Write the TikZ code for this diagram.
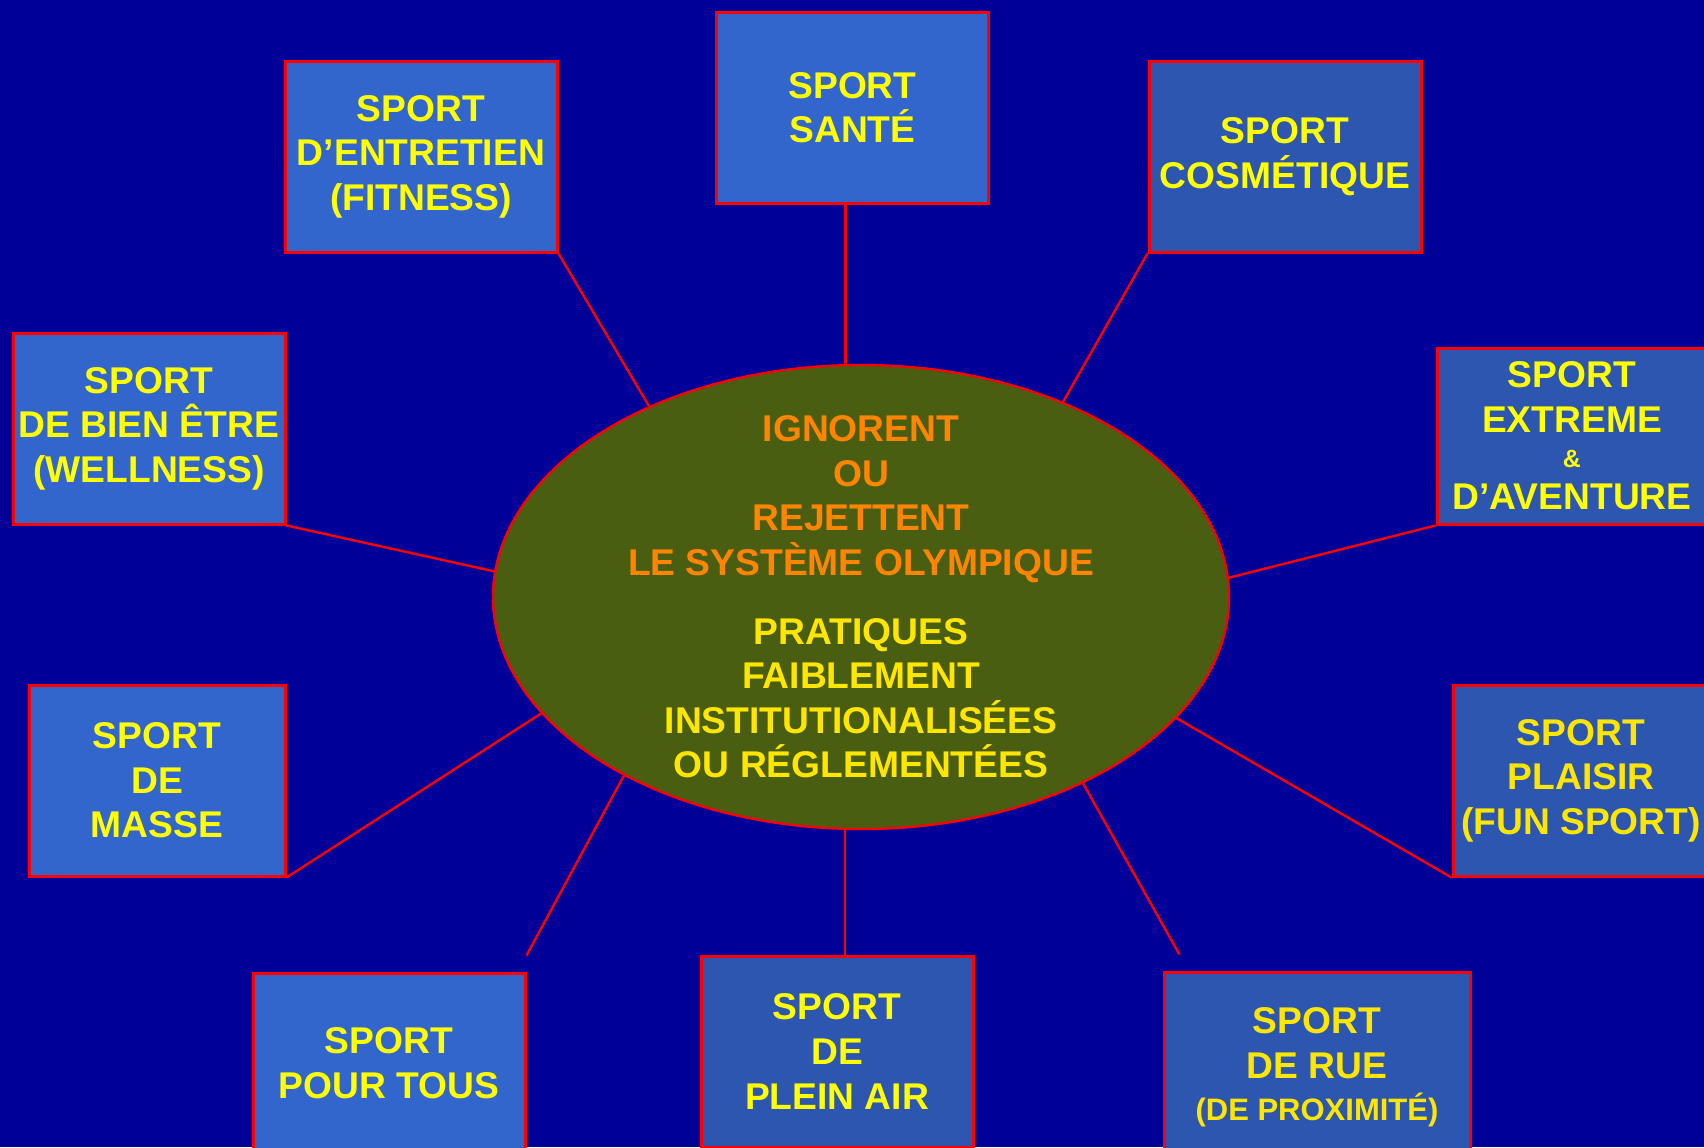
\documentclass[tikz,border=0pt]{standalone}
\usepackage{fontspec}
\setmainfont{Liberation Sans}
\usepackage{tikz}
\usetikzlibrary{calc}
\usetikzlibrary{shapes.geometric}
\usetikzlibrary{positioning}
\definecolor{fond}{RGB}{0,0,153}
\definecolor{boiteclair}{RGB}{51,102,204}
\definecolor{boitefonce}{RGB}{44,86,176}
\definecolor{olive}{RGB}{74,94,18}
\definecolor{jaune}{RGB}{255,255,0}
\definecolor{jauneor}{RGB}{255,230,0}
\definecolor{orange}{RGB}{255,133,0}
\tikzset{sport/.style={rectangle,draw=red,line width=1.5pt,fill=boiteclair,text=jaune,align=center,inner sep=0pt,minimum width=136pt,minimum height=95.5pt,font=\bfseries\fontsize{18.6}{22.3}\selectfont}}
\tikzset{sportf/.style={sport,fill=boitefonce}}
\tikzset{centre/.style={ellipse,draw=red,line width=1.2pt,fill=olive,inner sep=0pt,minimum width=368pt,minimum height=232pt}}
\tikzset{centretexte/.style={align=center,inner sep=0pt,font=\bfseries\fontsize{18.6}{22.3}\selectfont}}
\tikzset{lien/.style={draw=red,line width=1.2pt}}

\begin{document}
\begin{tikzpicture}[x=0.5pt,y=-0.5pt]

\fill[fond] (0,0) rectangle (1704,1147);
\useasboundingbox (0,0) rectangle (1704,1147);

\node[centre] (olymp) at (861,597) {};
\node[centretexte] (olymptexte) at (olymp.center) {\textcolor{orange}{IGNORENT}\\\textcolor{orange}{OU}\\\textcolor{orange}{REJETTENT}\\\textcolor{orange}{LE SYSTÈME OLYMPIQUE}\\[12pt]\textcolor{jauneor}{PRATIQUES}\\\textcolor{jauneor}{FAIBLEMENT}\\\textcolor{jauneor}{INSTITUTIONALISÉES}\\\textcolor{jauneor}{OU RÉGLEMENTÉES}};

% top row
\node[sport] (sante) at (852.5,107.5) {SPORT\\SANTÉ};
\node[sport] (entretien) at (421,156.5) {SPORT\\D’ENTRETIEN\\(FITNESS)};
\node[sportf] (cosmetique) at (1285,156.5) {SPORT\\COSMÉTIQUE};

% sides
\node[sport] (bienetre) at (149,428.5) {SPORT\\DE BIEN ÊTRE\\(WELLNESS)};
\node[sportf,minimum width=135pt,minimum height=88pt] (extreme) at (1572,436) {SPORT\\EXTREME\\[-5pt]{\fontsize{12.5}{14}\selectfont \&}\\[-1pt]D’AVENTURE};
\node[sport,minimum width=128pt] (masse) at (157,780.5) {SPORT\\DE\\MASSE};
\node[sportf,minimum width=128pt,text=jauneor] (plaisir) at (1581,780.5) {SPORT\\PLAISIR\\(FUN SPORT)};

% bottom row
\node[sport,minimum height=90pt] (tous) at (389,1063) {SPORT\\POUR TOUS};
\node[sportf] (pleinair) at (837,1051.5) {SPORT\\DE\\PLEIN AIR};
\node[sportf,minimum width=153pt,text=jauneor] (rue) at (1317,1067.5) {SPORT\\DE RUE\\[-1pt]{\fontsize{15.5}{18}\selectfont (DE PROXIMITÉ)}};

% links
\draw[lien] ([xshift=-3.5pt]sante.south) -- ([xshift=-3.5pt]sante.south |- olymp.north);
\draw[lien] (entretien.south east) -- (olymp.138);
\draw[lien] (cosmetique.south west) -- (olymp.44);
\draw[lien] (bienetre.south east) -- (olymp.176.3);
\draw[lien] (extreme.south west) -- (olymp.3.7);
\draw[lien] (masse.south east) -- (olymp.200.5);
\draw[lien] (plaisir.south west) -- (olymp.339.4);
\draw[lien] ([yshift=8pt]tous.north east) -- (olymp.217.2);
\draw[lien] ([xshift=4pt]pleinair.north) -- ([xshift=4pt]pleinair.north |- olymp.south);
\draw[lien] ([xshift=8.5pt,yshift=8pt]rue.north west) -- (olymp.320.9);

\end{tikzpicture}
\end{document}
